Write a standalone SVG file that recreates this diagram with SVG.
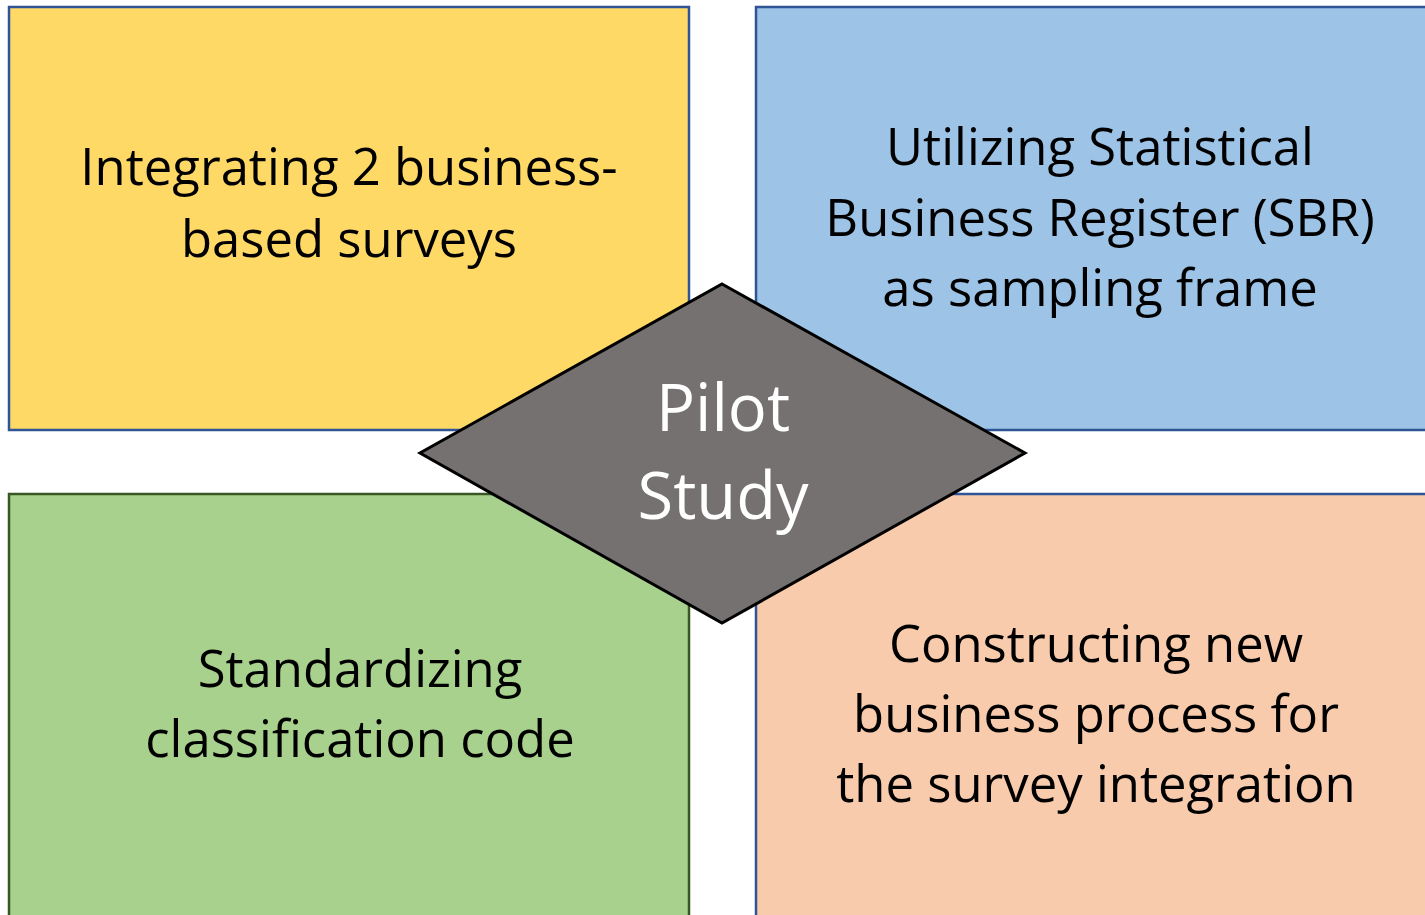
<svg xmlns="http://www.w3.org/2000/svg" width="1425" height="915" viewBox="0 0 1425 915">
<style>
.t{font-family:"Open Sans","Liberation Sans",sans-serif;font-size:50.8px;fill:#000;text-anchor:middle}
.d{font-family:"Open Sans","Liberation Sans",sans-serif;font-size:65px;fill:#fff;text-anchor:middle}
.bx{stroke-width:2.5}
</style>
<rect width="1425" height="915" fill="#fff"/>
<g id="yellow"><rect class="bx" x="9" y="7" width="680" height="423" fill="#FED966" stroke="#2F5597"/>
<text class="t" x="349" y="185">Integrating 2 business-</text><text class="t" x="349" y="257">based surveys</text></g>
<g id="blue"><rect class="bx" x="756" y="7" width="680" height="423" fill="#9DC3E6" stroke="#2F5597"/>
<text class="t" x="1100" y="165">Utilizing Statistical</text><text class="t" x="1100" y="236">Business Register (SBR)</text><text class="t" x="1100" y="306">as sampling frame</text></g>
<g id="green"><rect class="bx" x="9" y="494" width="680" height="440" fill="#A9D18E" stroke="#385723"/>
<text class="t" x="360" y="687">Standardizing</text><text class="t" x="360" y="757">classification code</text></g>
<g id="peach"><rect class="bx" x="756" y="494" width="680" height="440" fill="#F8CBAD" stroke="#2F5597"/>
<text class="t" x="1096" y="662">Constructing new</text><text class="t" x="1096" y="732">business process for</text><text class="t" x="1096" y="802">the survey integration</text></g>
<g id="connectors"></g>
<g id="pilot"><polygon points="722,284 1025,453 722,623 420,453" fill="#767171" stroke="#000" stroke-width="3"/>
<text class="d" x="723" y="431">Pilot</text><text class="d" x="723" y="519">Study</text></g>
</svg>
